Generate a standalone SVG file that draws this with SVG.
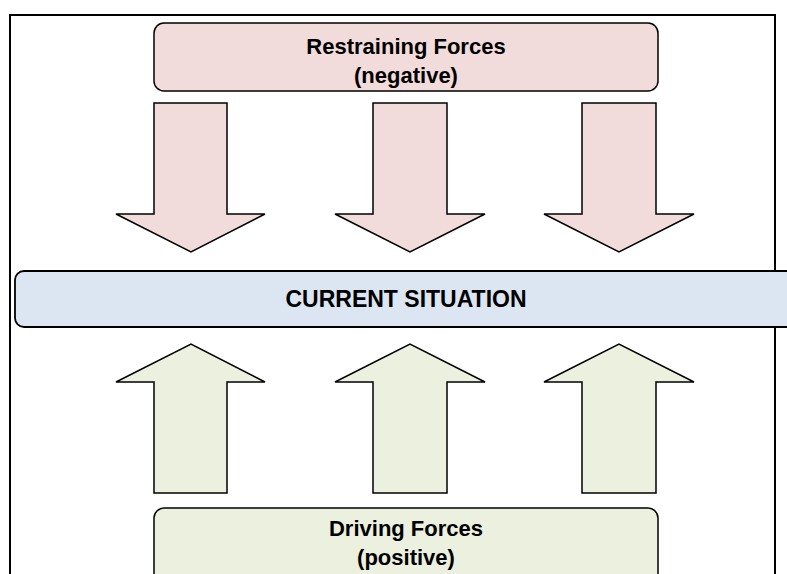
<svg xmlns="http://www.w3.org/2000/svg" width="787" height="574" viewBox="0 0 787 574">
<style>
.neg{fill:#F2DCDB;stroke:#000;stroke-width:1.5;stroke-linejoin:miter}
.pos{fill:#EBF1DE;stroke:#000;stroke-width:1.5;stroke-linejoin:miter}
.cur{fill:#DCE6F2;stroke:#000;stroke-width:1.8}
.t{font-family:"Liberation Sans",Arial,sans-serif;font-weight:bold;font-size:22px;fill:#000;text-anchor:middle}
.big{font-size:23px}
</style>
<rect x="10" y="15" width="765" height="580" fill="#fff" stroke="#000" stroke-width="2"/>
<g id="restraining">
<rect class="neg" x="154" y="23" width="504" height="68" rx="10"/>
<text class="t" x="406" y="54">Restraining Forces</text>
<text class="t" x="406" y="83">(negative)</text>
</g>
<g id="current">
<rect class="cur" x="15" y="271" width="790" height="56" rx="9"/>
<text class="t big" x="406" y="307">CURRENT SITUATION</text>
</g>
<g id="driving">
<rect class="pos" x="154" y="508" width="504" height="90" rx="10"/>
<text class="t" x="406" y="536">Driving Forces</text>
<text class="t" x="406" y="565">(positive)</text>
</g>
<g id="connectors">
<polygon class="neg" points="154,103 227,103 227,214 265,214 191,252 116,214 154,214"/>
<polygon class="neg" points="373,103 447,103 447,214 485,214 410,252 335,214 373,214"/>
<polygon class="neg" points="582,103 656,103 656,214 694,214 619,252 544,214 582,214"/>
<polygon class="pos" points="154,493 227,493 227,382 265,382 191,344 116,382 154,382"/>
<polygon class="pos" points="373,493 447,493 447,382 485,382 410,344 335,382 373,382"/>
<polygon class="pos" points="582,493 656,493 656,382 694,382 619,344 544,382 582,382"/>
</g>
</svg>
